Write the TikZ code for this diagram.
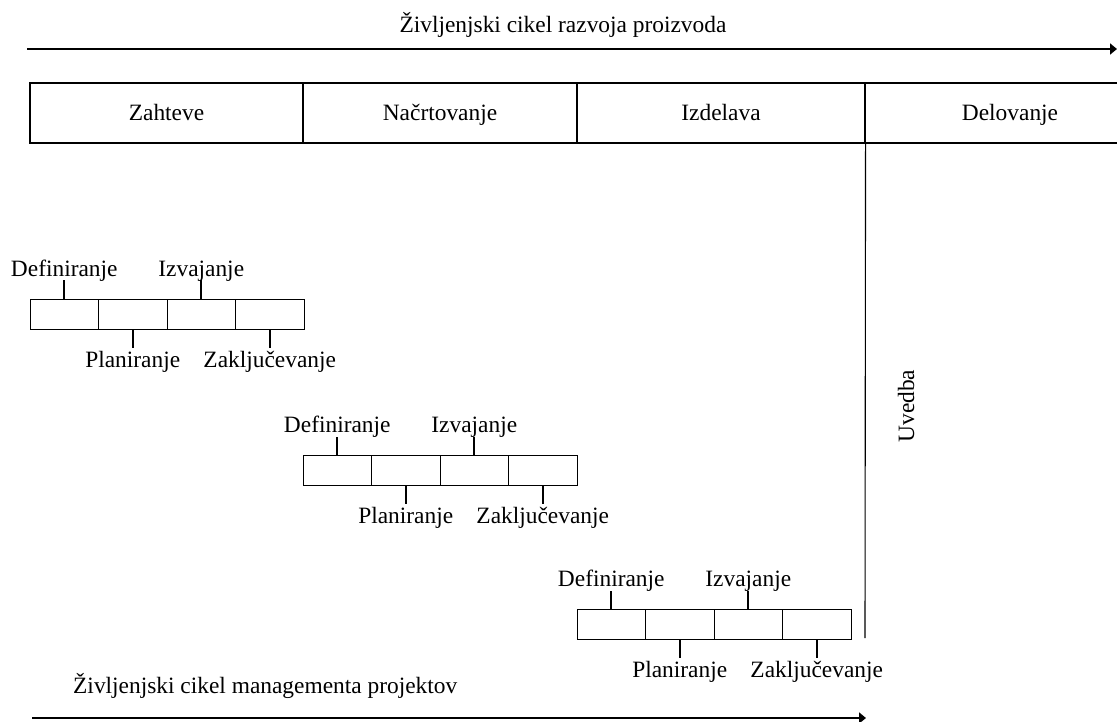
\documentclass[tikz,border=0pt]{standalone}
\usepackage{fontspec}
\setmainfont{Liberation Serif}
\usetikzlibrary{arrows.meta}

\begin{document}
\begin{tikzpicture}[x=1pt, y=-1pt,
  font=\fontsize{23.4pt}{28pt}\selectfont,
  phase/.style={draw, line width=1.1pt, inner sep=0pt, minimum height=60pt,
                text height=16pt, text depth=0pt},
  cell/.style={draw, line width=1.0pt, inner sep=0pt, minimum width=68.5pt, minimum height=30pt},
  lbl/.style={inner sep=0pt, anchor=base},
  tick/.style={line width=1.6pt},
  flow/.style={line width=1.8pt, -{Triangle[length=7pt,width=11pt]}}
]
% page frame
\clip (0,0) rectangle (1117,722);
\useasboundingbox (0,0) rectangle (1117,722);

% product development life cycle
\node[lbl] (toptitle) at (563,33) {Življenjski cikel razvoja proizvoda};
\coordinate (ta) at (27,49);
\coordinate (tb) at (1117,49);
\draw[flow] (ta) -- (tb);

\node[phase, minimum width=273pt] (p1) at (166.5,113) {Zahteve};
\node[phase, minimum width=274pt] (p2) at (440,113) {Načrtovanje};
\node[phase, minimum width=288pt] (p3) at (721,113) {Izdelava};
\node[phase, minimum width=290pt] (p4) at (1010,113) {Delovanje};

% introduction boundary
\coordinate (ub) at (865,638);
\draw[line width=1.1pt] (p3.south east) -- (ub);
\node[rotate=90, inner sep=0pt, text height=16pt, text depth=0pt] (uvedba) at (906,406) {Uvedba};

% project management cycles
\foreach \g/\gx/\gy in {1/30/299, 2/303/455, 3/577/609} {
  \foreach \k in {1,...,4} {
    \node[cell] (g\g c\k) at ({\gx+(\k-0.5)*68.5},{\gy+15}) {};
  }
  \node[lbl] (g\g d) at ([yshift=22pt]g\g c1.north) {Definiranje};
  \node[lbl] (g\g i) at ([yshift=22pt]g\g c3.north) {Izvajanje};
  \node[lbl] (g\g p) at ([yshift=-38pt]g\g c2.south) {Planiranje};
  \node[lbl] (g\g z) at ([yshift=-38pt]g\g c4.south) {Zaključevanje};
  \coordinate (g\g t1) at ([yshift=18pt]g\g c1.north);
  \coordinate (g\g t3) at ([yshift=18pt]g\g c3.north);
  \coordinate (g\g t2) at ([yshift=-18pt]g\g c2.south);
  \coordinate (g\g t4) at ([yshift=-18pt]g\g c4.south);
  \draw[tick] (g\g c1.north) -- (g\g t1);
  \draw[tick] (g\g c3.north) -- (g\g t3);
  \draw[tick] (g\g c2.south) -- (g\g t2);
  \draw[tick] (g\g c4.south) -- (g\g t4);
}

\node[lbl, anchor=base west] (bottitle) at (73,693) {Življenjski cikel managementa projektov};
\coordinate (ba) at (32,718);
\coordinate (bb) at (866,718);
\draw[flow] (ba) -- (bb);
\end{tikzpicture}
\end{document}
